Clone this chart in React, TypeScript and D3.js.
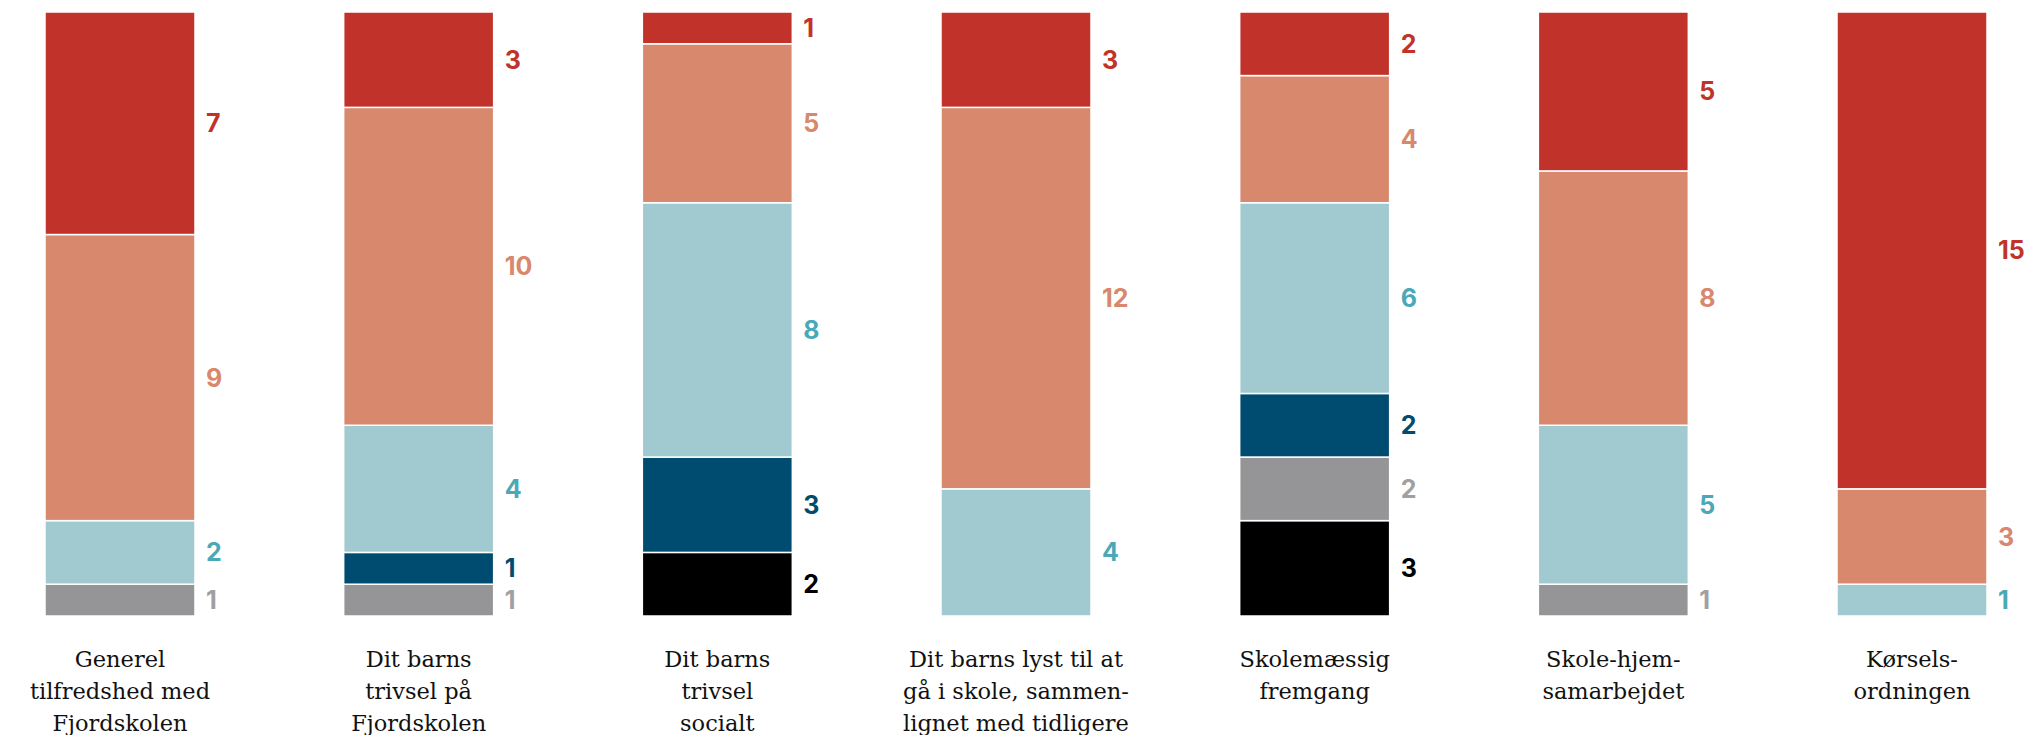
import React, { useEffect, useRef } from "react";
import * as d3 from "d3";

// Category labels (one array entry per line)
const categoryLabels: string[][] = [
  ["Generel", "tilfredshed med", "Fjordskolen"],
  ["Dit barns", "trivsel på", "Fjordskolen"],
  ["Dit barns", "trivsel", "socialt"],
  ["Dit barns lyst til at", "gå i skole, sammen-", "lignet med tidligere"],
  ["Skolemæssig", "fremgang"],
  ["Skole-hjem-", "samarbejdet"],
  ["Kørsels-", "ordningen"],
];

// Series values (counts), stacked bottom -> top in the order of seriesKeys
const blackValues = [0, 0, 2, 0, 3, 0, 0];
const grayValues = [1, 1, 0, 0, 2, 1, 0];
const darkBlueValues = [0, 1, 3, 0, 2, 0, 0];
const lightBlueValues = [2, 4, 8, 4, 6, 5, 1];
const salmonValues = [9, 10, 5, 12, 4, 8, 3];
const redValues = [7, 3, 1, 3, 2, 5, 15];

const seriesKeys = ["black", "gray", "darkBlue", "lightBlue", "salmon", "red"];
const seriesValues: Record<string, number[]> = {
  black: blackValues,
  gray: grayValues,
  darkBlue: darkBlueValues,
  lightBlue: lightBlueValues,
  salmon: salmonValues,
  red: redValues,
};
const fillColors: Record<string, string> = {
  black: "#000000",
  gray: "#959598",
  darkBlue: "#004b70",
  lightBlue: "#a0c9d0",
  salmon: "#d8886d",
  red: "#c1332a",
};
const labelColors: Record<string, string> = {
  black: "#000000",
  gray: "#a0a0a3",
  darkBlue: "#004b70",
  lightBlue: "#4aa9b8",
  salmon: "#d8886d",
  red: "#c1332a",
};

const W = 2027;
const H = 735;

export default function App() {
  const ref = useRef<SVGSVGElement | null>(null);

  useEffect(() => {
    const svg = d3.select(ref.current);
    svg.selectAll("*").remove();

    const rows = categoryLabels.map((_, i) => {
      const r: Record<string, number> = { index: i };
      seriesKeys.forEach((k) => (r[k] = seriesValues[k][i]));
      return r;
    });
    const stacked = d3.stack<Record<string, number>>().keys(seriesKeys)(rows);
    const maxTotal = d3.max(rows, (r) => d3.sum(seriesKeys, (k) => r[k])) as number;

    const x = d3
      .scaleBand<number>()
      .domain(categoryLabels.map((_, i) => i))
      .range([45, 1987])
      .paddingInner(0.4978)
      .paddingOuter(0);
    const y = d3.scaleLinear().domain([0, maxTotal]).range([616, 12]);
    const bw = x.bandwidth();

    const g = svg.append("g");
    stacked.forEach((layer) => {
      const key = layer.key;
      layer.forEach((d, i) => {
        const v = d[1] - d[0];
        if (v <= 0) return;
        const x0 = x(i) as number;
        g.append("rect")
          .attr("x", x0)
          .attr("y", y(d[1]))
          .attr("width", bw)
          .attr("height", y(d[0]) - y(d[1]))
          .attr("fill", fillColors[key])
          .attr("stroke", "#ffffff")
          .attr("stroke-width", 1.5);
        g.append("text")
          .attr("x", x0 + bw + 11)
          .attr("y", (y(d[0]) + y(d[1])) / 2 + 9)
          .attr("fill", labelColors[key])
          .attr("font-family", "Inter, 'Open Sans', sans-serif")
          .attr("font-weight", 700)
          .attr("font-size", 25)
          .text(String(v));
      });
    });

    const lg = svg.append("g");
    categoryLabels.forEach((lines, i) => {
      const cx = (x(i) as number) + bw / 2;
      const t = lg
        .append("text")
        .attr("text-anchor", "middle")
        .attr("font-family", "'DejaVu Serif', serif")
        .attr("font-size", 22.5)
        .attr("fill", "#111111");
      lines.forEach((line, j) => {
        t.append("tspan").attr("x", cx).attr("y", 667 + j * 32).text(line);
      });
      // keep the label block inside the left margin
      const node = t.node() as SVGTextElement;
      const bb = node.getBBox();
      const minLeft = 12;
      if (bb.x < minLeft) {
        const nx = cx + (minLeft - bb.x);
        t.selectAll("tspan").attr("x", nx);
      }
    });
  }, []);

  return (
    <svg
      ref={ref}
      width={W}
      height={H}
      style={{ position: "absolute", left: 0, top: 0, background: "#ffffff" }}
    />
  );
}
